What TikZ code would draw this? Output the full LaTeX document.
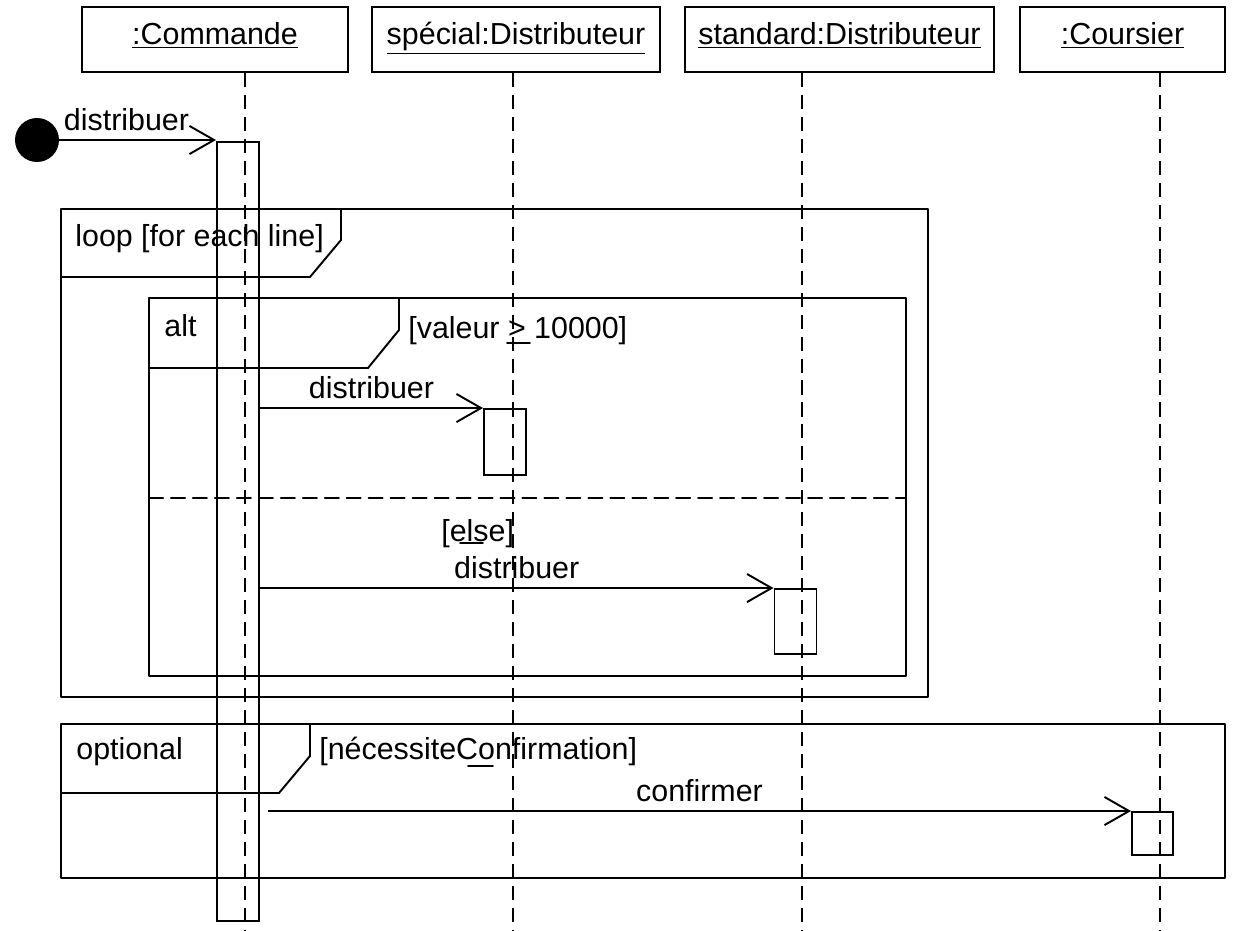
\documentclass[tikz,border=0pt]{standalone}
\usepackage{fontspec}
\setmainfont{Liberation Sans}
\usepackage{tkz-euclide}
\usetikzlibrary{arrows.meta,calc}
\definecolor{LineClr}{rgb}{0,0,0}

\tikzset{
  head/.style={draw=LineClr,line width=1.1pt,minimum height=13mm,inner sep=0pt,
    text height=11pt,text depth=4.8pt},
  act/.style={draw=LineClr,line width=1.1pt,minimum width=8.4mm,inner sep=0pt},
  lifeline/.style={line width=1.1pt,dash pattern=on 8pt off 4.5pt},
  msg/.style={line width=1.1pt,-{Straight Barb[length=14pt,width=16pt,line width=1.1pt]}},
  lbl/.style={inner sep=0pt,anchor=base west},
  msglbl/.style={inner sep=0pt,above=4.5pt,midway}
}

\begin{document}
\begin{tikzpicture}[x=.2mm,y=-.2mm,font=\fontsize{17.3}{20}\selectfont]
\useasboundingbox (0,0) rectangle (1247,931);
\tkzSetUpLine[line width=1.1pt,color=LineClr]

% frames
\tkzDefPoints{61/209/L1,928/209/L2,928/697/L3,61/697/L4,
  61/277/La,310/277/Lb,341/240/Lc,341/209/Ld}
\tkzDefPoints{149/298/A1,906/298/A2,906/676/A3,149/676/A4,
  149/368/Aa,368/368/Ab,399/330/Ac,399/298/Ad,149/498/Ae,906/498/Af}
\tkzDefPoints{61/724/O1,1225/724/O2,1225/878/O3,61/878/O4,
  61/793/Oa,279/793/Ob,310/756/Oc,310/724/Od}

\tkzDrawPolygon(L1,L2,L3,L4)
\tkzDrawPolySeg(La,Lb,Lc,Ld)
\tkzDrawPolygon(A1,A2,A3,A4)
\tkzDrawPolySeg(Aa,Ab,Ac,Ad)
\tkzDrawSegments[lifeline](Ae,Af)
\tkzDrawPolygon(O1,O2,O3,O4)
\tkzDrawPolySeg(Oa,Ob,Oc,Od)

\node[lbl] (loopLbl) at (75,247) {loop [for each line]};
\node[lbl] (altLbl) at (164,337) {alt};
\node[lbl] (altGrd) at (408,339) {[valeur > 10000]};
\node[lbl] (elseGrd) at (441,541) {[else]};
\node[lbl] (optLbl) at (76,759) {optional};
\node[lbl] (optGrd) at (319,759) {[nécessiteConfirmation]};

% stray marks
\tkzDefPoints{507/343/u1,530/343/u2,460/543/u3,483/543/u4,468/766/u5,493/766/u6}
\tkzDrawSegments(u1,u2 u3,u4 u5,u6)

% objects and lifelines
\node[head,minimum width=53.2mm] (cmd) at (215,39.5) {\underline{:Commande}};
\node[head,minimum width=57.6mm] (spe) at (516,39.5) {\underline{spécial:Distributeur}};
\node[head,minimum width=61.8mm] (std) at (839.5,39.5) {\underline{standard:Distributeur}};
\node[head,minimum width=41mm] (cou) at (1122.5,39.5) {\underline{:Coursier}};

\tkzDefPoints{245/931/eC,513/931/eS,802/931/eD,1160/931/eK}
\draw[lifeline] (cmd.south -| eC) -- (eC);
\draw[lifeline] (spe.south -| eS) -- (eS);
\draw[lifeline] (std.south -| eD) -- (eD);
\draw[lifeline] (cou.south -| eK) -- (eK);

% activations
\node[act,minimum height=155.8mm] (actC) at (238,531.5) {};
\node[act,minimum height=13.2mm] (actS) at (505,442) {};
\node[act,minimum height=13mm] (actD) at (795.5,621.5) {};
\node[act,minimum width=8.2mm,minimum height=8.6mm] (actK) at (1152.5,833.5) {};

% messages
\node[circle,fill=LineClr,minimum size=8.8mm,inner sep=0pt] (start) at (37,140) {};
\draw[msg] (start.center) -- (start.center -| actC.west) node[msglbl] (m0) {distribuer};
\draw[msg] (actC.east |- actS.north) -- (actS.north west) node[msglbl] (m1) {distribuer};
\draw[msg] (actC.east |- actD.north) -- (actD.north west) node[msglbl] (m2) {distribuer};
\coordinate[xshift=1.6mm] (cS) at (actC.east |- actK.north);
\draw[msg] (cS) -- (actK.north west) node[msglbl] (m3) {confirmer};

\end{tikzpicture}
\end{document}
